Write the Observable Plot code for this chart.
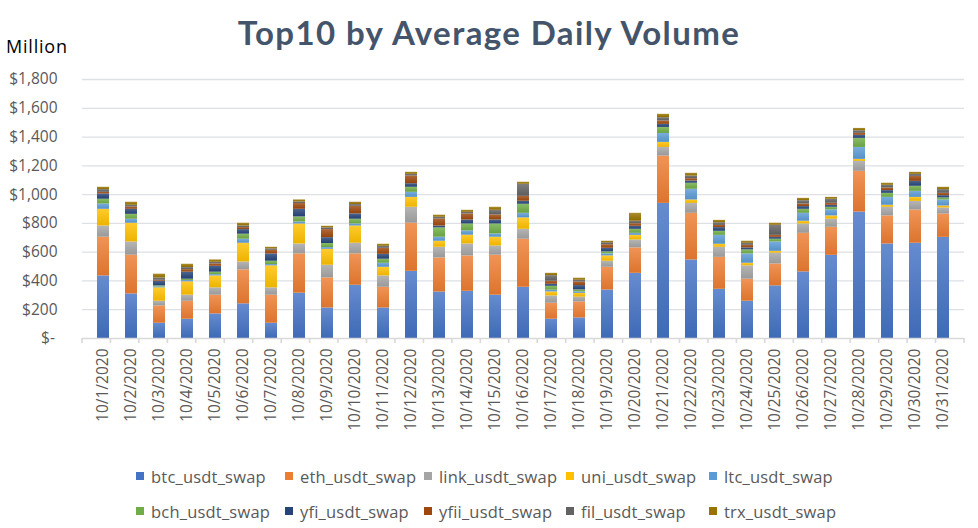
<!DOCTYPE html>
<html>
<head>
<meta charset="utf-8">
<script src="https://cdn.jsdelivr.net/npm/d3@7"></script>
<script src="https://cdn.jsdelivr.net/npm/@observablehq/plot@0.6"></script>
<style>
  html, body { margin: 0; padding: 0; background: #ffffff; }
  #wrap { position: relative; width: 978px; height: 528px; overflow: hidden; background: #fff; }
  #title { position: absolute; left: 0; top: 12px; width: 978px; text-align: center;
           font-family: Lato, "Open Sans", sans-serif; font-weight: 700; font-size: 33px;
           letter-spacing: 1.4px; line-height: 40px; color: #44546A; }
  #unit { position: absolute; left: 6px; top: 35px; font-family: "Open Sans", sans-serif;
          font-size: 18px; letter-spacing: 0.8px; line-height: 22px; color: #000; }
  #chart { position: absolute; left: 0; top: 60px; }
  #legend { position: absolute; left: 136px; top: 465px; display: grid;
            grid-template-columns: 149px 139px 142px 143px 140px; row-gap: 13px;
            font-family: "Open Sans", sans-serif; font-size: 16.5px; letter-spacing: 0.2px; color: #595959; }
  .item { display: flex; align-items: center; height: 22px; white-space: nowrap; }
  .sw { width: 8px; height: 8px; margin-right: 7px; flex: none; }
</style>
</head>
<body>
<div id="wrap">
  <div id="title">Top10 by Average Daily Volume</div>
  <div id="unit">Million</div>
  <div id="chart"></div>
  <div id="legend"></div>
</div>
<script>
const dates = ["10/1/2020","10/2/2020","10/3/2020","10/4/2020","10/5/2020","10/6/2020","10/7/2020","10/8/2020","10/9/2020","10/10/2020","10/11/2020","10/12/2020","10/13/2020","10/14/2020","10/15/2020","10/16/2020","10/17/2020","10/18/2020","10/19/2020","10/20/2020","10/21/2020","10/22/2020","10/23/2020","10/24/2020","10/25/2020","10/26/2020","10/27/2020","10/28/2020","10/29/2020","10/30/2020","10/31/2020"];
const seriesNames = ["btc_usdt_swap","eth_usdt_swap","link_usdt_swap","uni_usdt_swap","ltc_usdt_swap","bch_usdt_swap","yfi_usdt_swap","yfii_usdt_swap","fil_usdt_swap","trx_usdt_swap"];

// values in million USD, bottom to top of each stack
const btc  = [435,310,106,134,171,241,106,315,212,370,212,467,323,328,301,356,134,143,337,453,939,546,342,259,366,463,578,879,657,662,703];
const eth  = [269,269,121,125,130,236,195,273,209,218,144,334,237,246,278,334,111,111,158,177,329,324,222,153,152,268,195,283,195,231,162];
const link = [78,92,32,42,51,55,51,69,88,74,79,111,74,83,64,69,51,33,42,55,60,69,70,93,75,65,56,69,60,60,42];
const uni  = [116,130,93,93,83,130,153,139,111,120,60,69,42,61,61,79,28,27,37,32,35,24,21,18,13,19,23,14,14,28,14];
const ltc  = [37,28,7,9,9,28,9,14,12,14,28,35,28,30,23,32,12,10,14,14,62,74,62,65,65,55,42,83,55,42,42];
const bch  = [33,34,7,9,17,35,23,35,28,33,28,35,65,48,69,63,27,14,14,28,42,42,28,28,19,28,18,63,28,35,14];
const yfi  = [37,35,32,49,41,32,51,53,41,37,34,25,13,28,28,21,14,30,25,21,21,16,26,14,13,19,14,21,19,34,16];
const yfii = [11,16,7,18,17,14,25,40,56,53,42,54,49,42,35,34,21,25,25,18,24,16,15,18,14,18,14,14,18,35,16];
const fil  = [19,12,16,14,11,11,10,11,12,12,14,11,12,11,32,84,39,12,14,17,23,18,19,14,70,23,28,18,19,14,26];
const trx  = [16,21,26,23,16,19,11,14,11,16,14,14,14,14,21,14,16,14,10,55,23,19,16,14,14,16,13,16,14,14,16];

const yTicks = [0,200,400,600,800,1000,1200,1400,1600,1800];
const palette = ["#4472C4","#ED7D31","#A5A5A5","#FFC000","#5B9BD5","#70AD47","#264478","#9E480E","#636363","#997300"];

const seriesValues = [btc, eth, link, uni, ltc, bch, yfi, yfii, fil, trx];
const rows = [];
dates.forEach((d, i) => {
  seriesNames.forEach((s, j) => rows.push({date: d, series: s, value: seriesValues[j][i]}));
});

const gradIds = seriesNames.map((s, i) => "grad" + i);

const plot = Plot.plot({
  width: 978,
  height: 390,
  marginTop: 19,
  marginBottom: 112,
  marginLeft: 82,
  marginRight: 14,
  style: {fontFamily: "'Open Sans', sans-serif", fontSize: "15.5px", color: "#595959", background: "transparent"},
  x: {domain: dates, paddingInner: 0.56, paddingOuter: 0.28, tickRotate: -90, tickSize: 0, tickPadding: 10, label: null},
  y: {domain: [0, 1800], ticks: yTicks, tickSize: 0, tickPadding: 25, label: null,
      tickFormat: d => d === 0 ? "$-\u2009" : "$" + d3.format(",")(d)},
  color: {domain: seriesNames, range: gradIds.map(id => `url(#${id})`)},
  marks: [
    Plot.ruleY(yTicks.filter(d => d > 0), {stroke: "#DDE0E5", strokeWidth: 1.3}),
    Plot.barY(rows, {x: "date", y: "value", fill: "series", order: seriesNames}),
    Plot.ruleY([0], {stroke: "#D9D9D9", strokeWidth: 1.6})
  ]
});

// gradients (Excel-style shaded fills)
const svg = d3.select(plot);
const defs = svg.insert("defs", ":first-child");
palette.forEach((c, i) => {
  const g = defs.append("linearGradient").attr("id", gradIds[i])
    .attr("x1", 0).attr("y1", 0).attr("x2", 0).attr("y2", 1);
  g.append("stop").attr("offset", "0%").attr("stop-color", d3.interpolateRgb(c, "#ffffff")(0.18));
  g.append("stop").attr("offset", "100%").attr("stop-color", d3.interpolateRgb(c, "#000000")(0.07));
});

// category boundary ticks under the axis
const xs = plot.scale("x");
const r0 = xs.range[0], r1 = xs.range[1], n = xs.domain.length;
const step = (r1 - r0) / n;
const y0 = plot.scale("y").range[0];
const tickG = svg.append("g");
d3.range(n + 1).forEach(i => {
  const x = r0 + i * step;
  tickG.append("line").attr("x1", x).attr("x2", x).attr("y1", y0).attr("y2", y0 + 5)
    .attr("stroke", "#D9D9D9").attr("stroke-width", 1.6);
});

document.getElementById("chart").appendChild(plot);

// legend
const legend = d3.select("#legend");
seriesNames.forEach((s, i) => {
  const it = legend.append("div").attr("class", "item");
  it.append("div").attr("class", "sw").style("background", palette[i]);
  it.append("span").text(s);
});
</script>
</body>
</html>
